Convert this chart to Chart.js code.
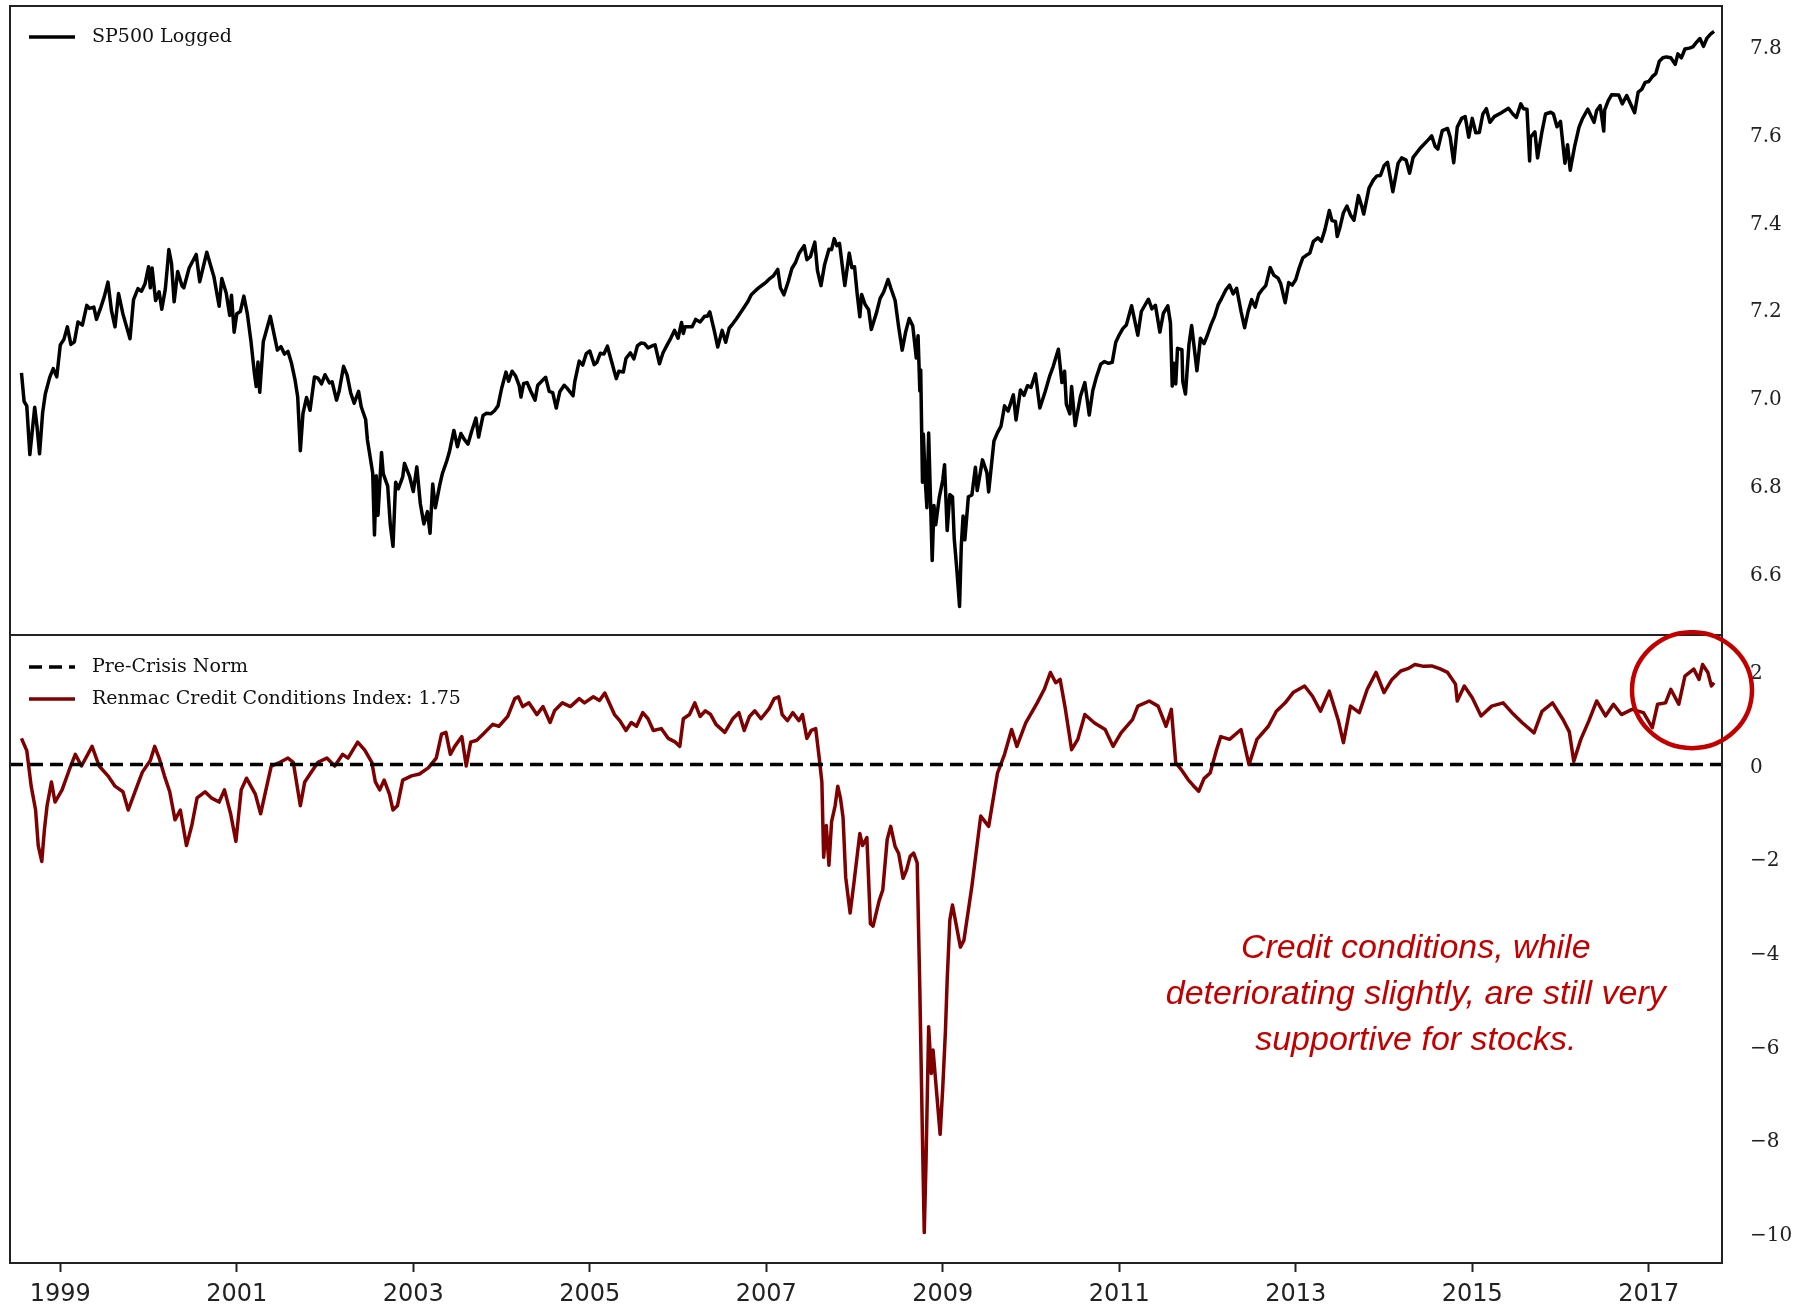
<!DOCTYPE html>
<html>
<head>
<meta charset="utf-8">
<title>SP500 Logged vs Renmac Credit Conditions Index</title>
<script src="https://cdn.jsdelivr.net/npm/chart.js@4.4.1/dist/chart.umd.min.js"></script>
<style>
  html, body { margin:0; padding:0; background:#fff; }
  #wrap { position:relative; width:1803px; height:1305px; overflow:hidden; }
  #topChart { position:absolute; left:0; top:0; }
  #bottomChart { position:absolute; left:0; top:630px; }
</style>
</head>
<body>
<div id="wrap">
  <canvas id="topChart" width="1803" height="640"></canvas>
  <canvas id="bottomChart" width="1803" height="675"></canvas>
</div>
<script>
// time axis (decimal years) shared by both panels
var xMin = 1998.43, xMax = 2017.83;
var xTickYears = [1999, 2001, 2003, 2005, 2007, 2009, 2011, 2013, 2015, 2017];
var spxTicks = [6.6, 6.8, 7.0, 7.2, 7.4, 7.6, 7.8];
var rcciTicks = [-10, -8, -6, -4, -2, 0, 2];
var normLevel = 0;

// SP500 logged
var spxDates = [
  1998.56, 1998.59, 1998.62, 1998.655, 1998.71, 1998.735, 1998.765, 1998.80, 1998.83, 1998.88, 1998.92, 1998.96,
  1999.00, 1999.04, 1999.08, 1999.12, 1999.16, 1999.20, 1999.25, 1999.30, 1999.33, 1999.38, 1999.41, 1999.46, 1999.50, 1999.54, 1999.58, 1999.62, 1999.66, 1999.71, 1999.79, 1999.83, 1999.88, 1999.92, 1999.96,
  2000.00, 2000.02, 2000.04, 2000.08, 2000.12, 2000.15, 2000.19, 2000.21, 2000.23, 2000.26, 2000.29, 2000.33, 2000.38, 2000.40, 2000.46, 2000.54, 2000.58, 2000.66, 2000.71, 2000.74, 2000.80, 2000.83, 2000.88, 2000.92, 2000.94, 2000.97,
  2001.00, 2001.04, 2001.08, 2001.12, 2001.16, 2001.20, 2001.22, 2001.24, 2001.26, 2001.30, 2001.38, 2001.46, 2001.50, 2001.54, 2001.58, 2001.62, 2001.66, 2001.69, 2001.72, 2001.75, 2001.79, 2001.83, 2001.88, 2001.92, 2001.96,
  2002.00, 2002.05, 2002.08, 2002.13, 2002.16, 2002.21, 2002.25, 2002.29, 2002.33, 2002.38, 2002.41, 2002.46, 2002.48, 2002.54, 2002.56, 2002.58, 2002.60, 2002.64, 2002.66, 2002.71, 2002.74, 2002.77, 2002.80, 2002.83, 2002.88, 2002.90, 2002.96,
  2003.00, 2003.04, 2003.08, 2003.12, 2003.16, 2003.19, 2003.22, 2003.25, 2003.30, 2003.33, 2003.38, 2003.41, 2003.46, 2003.50, 2003.54, 2003.58, 2003.62, 2003.66, 2003.71, 2003.74, 2003.79, 2003.83, 2003.88, 2003.92, 2003.96,
  2004.00, 2004.05, 2004.08, 2004.12, 2004.16, 2004.20, 2004.22, 2004.25, 2004.29, 2004.33, 2004.38, 2004.41, 2004.46, 2004.50, 2004.54, 2004.58, 2004.62, 2004.66, 2004.71, 2004.74, 2004.81, 2004.83, 2004.88, 2004.92, 2004.96,
  2005.00, 2005.05, 2005.08, 2005.12, 2005.16, 2005.20, 2005.25, 2005.30, 2005.33, 2005.38, 2005.41, 2005.46, 2005.50, 2005.54, 2005.58, 2005.62, 2005.66, 2005.71, 2005.74, 2005.79, 2005.83, 2005.88, 2005.92, 2005.96,
  2006.00, 2006.04, 2006.06, 2006.08, 2006.12, 2006.16, 2006.20, 2006.25, 2006.30, 2006.33, 2006.36, 2006.41, 2006.45, 2006.50, 2006.54, 2006.58, 2006.62, 2006.66, 2006.70, 2006.74, 2006.79, 2006.83, 2006.88, 2006.92, 2006.96,
  2007.00, 2007.04, 2007.08, 2007.13, 2007.16, 2007.20, 2007.25, 2007.29, 2007.33, 2007.37, 2007.41, 2007.43, 2007.46, 2007.50, 2007.55, 2007.58, 2007.62, 2007.66, 2007.71, 2007.74, 2007.77, 2007.80, 2007.83, 2007.87, 2007.89, 2007.94, 2007.97,
  2008.00, 2008.03, 2008.06, 2008.08, 2008.12, 2008.16, 2008.19, 2008.25, 2008.29, 2008.33, 2008.38, 2008.41, 2008.46, 2008.50, 2008.54, 2008.58, 2008.62, 2008.66, 2008.70, 2008.72, 2008.74, 2008.75, 2008.77, 2008.78, 2008.80, 2008.82, 2008.84, 2008.88, 2008.90, 2008.92, 2008.96,
  2009.00, 2009.02, 2009.05, 2009.08, 2009.11, 2009.13, 2009.16, 2009.19, 2009.21, 2009.23, 2009.25, 2009.29, 2009.33, 2009.37, 2009.39, 2009.45, 2009.50, 2009.52, 2009.58, 2009.62, 2009.66, 2009.70, 2009.74, 2009.80, 2009.83, 2009.88, 2009.92, 2009.96,
  2010.00, 2010.05, 2010.10, 2010.16, 2010.21, 2010.25, 2010.31, 2010.35, 2010.38, 2010.40, 2010.44, 2010.46, 2010.50, 2010.56, 2010.61, 2010.66, 2010.70, 2010.74, 2010.79, 2010.83, 2010.88, 2010.92, 2010.96,
  2011.00, 2011.04, 2011.08, 2011.14, 2011.21, 2011.25, 2011.33, 2011.37, 2011.41, 2011.46, 2011.50, 2011.55, 2011.58, 2011.60, 2011.62, 2011.64, 2011.66, 2011.71, 2011.72, 2011.75, 2011.79, 2011.82, 2011.88, 2011.92, 2011.96,
  2012.00, 2012.04, 2012.08, 2012.12, 2012.16, 2012.21, 2012.25, 2012.29, 2012.33, 2012.38, 2012.42, 2012.46, 2012.50, 2012.54, 2012.58, 2012.62, 2012.66, 2012.71, 2012.75, 2012.80, 2012.83, 2012.88, 2012.92, 2012.96,
  2013.00, 2013.04, 2013.08, 2013.12, 2013.16, 2013.20, 2013.25, 2013.29, 2013.33, 2013.38, 2013.41, 2013.45, 2013.47, 2013.50, 2013.54, 2013.58, 2013.62, 2013.66, 2013.71, 2013.75, 2013.77, 2013.83, 2013.88, 2013.92, 2013.96,
  2014.00, 2014.04, 2014.08, 2014.10, 2014.16, 2014.20, 2014.25, 2014.29, 2014.33, 2014.41, 2014.50, 2014.54, 2014.58, 2014.61, 2014.66, 2014.72, 2014.75, 2014.79, 2014.83, 2014.88, 2014.92, 2014.96,
  2015.00, 2015.04, 2015.08, 2015.12, 2015.16, 2015.20, 2015.25, 2015.33, 2015.41, 2015.46, 2015.50, 2015.55, 2015.58, 2015.62, 2015.65, 2015.66, 2015.71, 2015.74, 2015.79, 2015.83, 2015.89, 2015.92, 2015.96,
  2016.00, 2016.05, 2016.08, 2016.11, 2016.16, 2016.21, 2016.25, 2016.31, 2016.38, 2016.41, 2016.45, 2016.49, 2016.50, 2016.54, 2016.58, 2016.66, 2016.70, 2016.75, 2016.84, 2016.88, 2016.92, 2016.96,
  2017.00, 2017.04, 2017.08, 2017.12, 2017.16, 2017.20, 2017.25, 2017.30, 2017.33, 2017.37, 2017.41, 2017.46, 2017.50, 2017.54, 2017.58, 2017.62, 2017.66, 2017.70, 2017.74
];
var spxLogged = [
  7.050, 6.985, 6.975, 6.864, 6.972, 6.930, 6.866, 6.960, 7.002, 7.040, 7.060, 7.041,
  7.114, 7.126, 7.155, 7.115, 7.121, 7.166, 7.159, 7.204, 7.197, 7.200, 7.172, 7.200, 7.225, 7.257, 7.192, 7.155, 7.231, 7.184, 7.128, 7.217, 7.242, 7.236, 7.253,
  7.292, 7.244, 7.289, 7.215, 7.235, 7.195, 7.241, 7.285, 7.331, 7.300, 7.212, 7.281, 7.248, 7.244, 7.289, 7.320, 7.258, 7.325, 7.290, 7.270, 7.202, 7.265, 7.232, 7.181, 7.227, 7.143,
  7.185, 7.190, 7.225, 7.184, 7.123, 7.048, 7.019, 7.075, 7.006, 7.121, 7.179, 7.102, 7.110, 7.093, 7.099, 7.072, 7.034, 6.996, 6.873, 6.958, 6.994, 6.965, 7.041, 7.038, 7.025,
  7.046, 7.027, 7.030, 6.988, 7.009, 7.065, 7.045, 7.005, 6.981, 7.008, 6.973, 6.944, 6.898, 6.822, 6.681, 6.816, 6.726, 6.869, 6.820, 6.792, 6.703, 6.655, 6.801, 6.786, 6.813, 6.844, 6.813,
  6.780, 6.836, 6.752, 6.706, 6.734, 6.685, 6.797, 6.743, 6.795, 6.821, 6.850, 6.871, 6.919, 6.882, 6.912, 6.898, 6.888, 6.916, 6.947, 6.904, 6.953, 6.958, 6.957, 6.964, 6.975,
  7.014, 7.052, 7.031, 7.054, 7.043, 7.021, 6.995, 7.026, 7.028, 7.009, 6.988, 7.022, 7.032, 7.040, 7.008, 7.005, 6.970, 7.007, 7.022, 7.016, 6.998, 7.030, 7.077, 7.068, 7.094,
  7.100, 7.069, 7.074, 7.095, 7.093, 7.111, 7.074, 7.037, 7.054, 7.052, 7.083, 7.096, 7.082, 7.112, 7.118, 7.117, 7.107, 7.112, 7.114, 7.071, 7.096, 7.115, 7.130, 7.147,
  7.129, 7.165, 7.140, 7.155, 7.155, 7.155, 7.172, 7.166, 7.179, 7.179, 7.189, 7.147, 7.109, 7.147, 7.120, 7.152, 7.162, 7.173, 7.185, 7.197, 7.212, 7.228, 7.238, 7.245, 7.251,
  7.257, 7.265, 7.271, 7.286, 7.244, 7.228, 7.259, 7.288, 7.301, 7.322, 7.334, 7.340, 7.308, 7.315, 7.348, 7.283, 7.249, 7.296, 7.332, 7.331, 7.356, 7.340, 7.345, 7.280, 7.249, 7.323, 7.290,
  7.292, 7.230, 7.178, 7.229, 7.206, 7.194, 7.149, 7.188, 7.220, 7.234, 7.263, 7.244, 7.215, 7.155, 7.102, 7.144, 7.174, 7.157, 7.084, 7.135, 7.009, 7.057, 6.801, 6.911, 6.811, 6.743, 6.913, 6.623, 6.748, 6.704, 6.766,
  6.806, 6.841, 6.691, 6.773, 6.768, 6.672, 6.600, 6.518, 6.657, 6.724, 6.670, 6.768, 6.772, 6.835, 6.782, 6.852, 6.823, 6.779, 6.895, 6.914, 6.929, 6.975, 6.963, 7.000, 6.943, 7.011, 6.999, 7.021,
  7.017, 7.048, 6.970, 7.007, 7.042, 7.064, 7.104, 7.028, 7.054, 6.979, 6.957, 7.019, 6.930, 6.997, 7.028, 6.954, 7.010, 7.040, 7.070, 7.076, 7.072, 7.074, 7.120,
  7.137, 7.151, 7.159, 7.203, 7.136, 7.190, 7.218, 7.196, 7.204, 7.143, 7.186, 7.203, 7.164, 7.020, 7.072, 7.025, 7.106, 7.103, 7.030, 7.002, 7.115, 7.158, 7.055, 7.129, 7.117,
  7.137, 7.160, 7.179, 7.205, 7.220, 7.240, 7.250, 7.230, 7.243, 7.190, 7.153, 7.190, 7.217, 7.200, 7.229, 7.240, 7.249, 7.290, 7.273, 7.266, 7.253, 7.210, 7.256, 7.250,
  7.263, 7.290, 7.312, 7.318, 7.323, 7.350, 7.358, 7.350, 7.376, 7.420, 7.397, 7.395, 7.361, 7.381, 7.415, 7.430, 7.410, 7.398, 7.454, 7.428, 7.412, 7.471, 7.490, 7.499, 7.500,
  7.522, 7.530, 7.486, 7.463, 7.528, 7.540, 7.535, 7.505, 7.541, 7.562, 7.581, 7.590, 7.566, 7.560, 7.602, 7.607, 7.587, 7.529, 7.610, 7.630, 7.634, 7.587,
  7.630, 7.597, 7.598, 7.640, 7.652, 7.621, 7.634, 7.643, 7.653, 7.640, 7.632, 7.663, 7.652, 7.651, 7.533, 7.587, 7.599, 7.540, 7.600, 7.640, 7.644, 7.640, 7.611,
  7.623, 7.528, 7.570, 7.512, 7.566, 7.610, 7.630, 7.651, 7.621, 7.648, 7.659, 7.601, 7.649, 7.670, 7.684, 7.683, 7.663, 7.682, 7.643, 7.690, 7.696, 7.712,
  7.714, 7.725, 7.732, 7.760, 7.768, 7.770, 7.768, 7.753, 7.777, 7.768, 7.788, 7.790, 7.793, 7.803, 7.812, 7.794, 7.813, 7.822, 7.828
];

// Renmac Credit Conditions Index
var rcciDates = [
  1998.56, 1998.62, 1998.67, 1998.72, 1998.75, 1998.79, 1998.82, 1998.85, 1998.90, 1998.94,
  1999.02, 1999.10, 1999.17, 1999.24, 1999.36, 1999.44, 1999.54, 1999.62, 1999.71, 1999.77, 1999.87, 1999.93,
  2000.02, 2000.07, 2000.12, 2000.18, 2000.24, 2000.30, 2000.36, 2000.43, 2000.49, 2000.55, 2000.64, 2000.71, 2000.80, 2000.86, 2000.93, 2000.99,
  2001.05, 2001.11, 2001.21, 2001.27, 2001.33, 2001.39, 2001.49, 2001.58, 2001.64, 2001.72, 2001.77, 2001.83, 2001.92,
  2002.02, 2002.11, 2002.20, 2002.26, 2002.37, 2002.45, 2002.53, 2002.57, 2002.62, 2002.67, 2002.73, 2002.77, 2002.82, 2002.88, 2002.98,
  2003.07, 2003.17, 2003.26, 2003.32, 2003.37, 2003.42, 2003.47, 2003.55, 2003.60, 2003.65, 2003.72, 2003.79, 2003.90, 2003.97,
  2004.07, 2004.15, 2004.19, 2004.24, 2004.31, 2004.40, 2004.47, 2004.55, 2004.60, 2004.69, 2004.78, 2004.88, 2004.94,
  2005.04, 2005.11, 2005.17, 2005.23, 2005.28, 2005.34, 2005.41, 2005.47, 2005.53, 2005.60, 2005.66, 2005.72, 2005.81, 2005.89, 2005.97,
  2006.02, 2006.06, 2006.13, 2006.19, 2006.25, 2006.31, 2006.37, 2006.43, 2006.53, 2006.62, 2006.69, 2006.75, 2006.81, 2006.87, 2006.94,
  2007.03, 2007.09, 2007.14, 2007.18, 2007.24, 2007.30, 2007.37, 2007.41, 2007.46, 2007.51, 2007.56, 2007.60, 2007.63, 2007.65, 2007.68, 2007.71, 2007.74, 2007.78, 2007.81, 2007.84, 2007.87, 2007.90, 2007.95, 2007.99,
  2008.06, 2008.09, 2008.14, 2008.18, 2008.21, 2008.28, 2008.32, 2008.37, 2008.41, 2008.46, 2008.50, 2008.55, 2008.59, 2008.63, 2008.67, 2008.71, 2008.74, 2008.77, 2008.79, 2008.81, 2008.84, 2008.87, 2008.89, 2008.93, 2008.97,
  2009.00, 2009.03, 2009.05, 2009.08, 2009.11, 2009.14, 2009.20, 2009.24, 2009.33, 2009.43, 2009.52, 2009.62, 2009.70, 2009.78, 2009.84, 2009.94,
  2010.07, 2010.15, 2010.22, 2010.28, 2010.33, 2010.39, 2010.46, 2010.53, 2010.61, 2010.72, 2010.84, 2010.93,
  2011.02, 2011.15, 2011.21, 2011.34, 2011.44, 2011.53, 2011.59, 2011.64, 2011.70, 2011.78, 2011.84, 2011.90, 2011.96,
  2012.03, 2012.10, 2012.15, 2012.25, 2012.38, 2012.47, 2012.56, 2012.69, 2012.78, 2012.88, 2012.97,
  2013.10, 2013.19, 2013.28, 2013.38, 2013.48, 2013.54, 2013.62, 2013.72, 2013.81, 2013.91,
  2014.00, 2014.09, 2014.19, 2014.27, 2014.35, 2014.45, 2014.54, 2014.63, 2014.72, 2014.81, 2014.83, 2014.91,
  2015.00, 2015.10, 2015.22, 2015.35, 2015.45, 2015.57, 2015.70, 2015.79, 2015.91,
  2016.03, 2016.10, 2016.15, 2016.23, 2016.32, 2016.41, 2016.51, 2016.60, 2016.69, 2016.81, 2016.94,
  2017.04, 2017.10, 2017.19, 2017.25, 2017.34, 2017.41, 2017.51, 2017.57, 2017.61, 2017.67, 2017.71, 2017.74
];
var rcciValues = [
  0.56, 0.30, -0.46, -0.97, -1.73, -2.07, -1.39, -0.88, -0.37, -0.80,
  -0.54, -0.12, 0.22, -0.03, 0.39, -0.03, -0.24, -0.46, -0.58, -0.97, -0.46, -0.16,
  0.09, 0.39, 0.14, -0.24, -0.58, -1.18, -0.97, -1.73, -1.30, -0.71, -0.58, -0.71, -0.80, -0.54, -1.05, -1.64,
  -0.54, -0.29, -0.63, -1.05, -0.54, -0.03, 0.05, 0.14, 0.05, -0.88, -0.37, -0.20, 0.05,
  0.14, -0.03, 0.22, 0.14, 0.48, 0.31, 0.05, -0.37, -0.54, -0.33, -0.63, -0.97, -0.88, -0.33, -0.24,
  -0.20, -0.07, 0.14, 0.65, 0.69, 0.22, 0.39, 0.60, -0.03, 0.48, 0.52, 0.65, 0.86, 0.82,
  1.03, 1.41, 1.45, 1.24, 1.32, 1.07, 1.24, 0.90, 1.15, 1.32, 1.24, 1.41, 1.32,
  1.45, 1.37, 1.53, 1.28, 1.07, 0.94, 0.73, 0.90, 0.82, 1.11, 0.98, 0.73, 0.77, 0.56, 0.48,
  0.39, 0.98, 1.07, 1.32, 1.03, 1.15, 1.07, 0.86, 0.69, 0.98, 1.11, 0.73, 1.03, 1.15, 0.98,
  1.19, 1.41, 1.45, 1.07, 0.94, 1.11, 0.94, 1.07, 0.56, 0.73, 0.77, 0.14, -0.37, -1.98, -1.30, -2.15, -1.22, -0.88, -0.46, -0.71, -1.13, -2.41, -3.17, -2.58,
  -1.47, -1.73, -1.56, -3.40, -3.45, -2.90, -2.68, -1.60, -1.32, -1.75, -1.90, -2.43, -2.25, -1.96, -1.89, -2.10, -4.80, -8.00, -10.00, -8.50, -5.60, -6.60, -6.10, -7.00, -7.90,
  -6.90, -5.70, -4.60, -3.32, -3.00, -3.30, -3.90, -3.75, -2.60, -1.10, -1.32, -0.18, 0.22, 0.75, 0.39, 0.89,
  1.32, 1.61, 1.97, 1.75, 1.82, 1.18, 0.32, 0.54, 1.07, 0.89, 0.75, 0.39,
  0.68, 0.96, 1.25, 1.36, 1.25, 0.82, 1.18, 0.04, -0.10, -0.32, -0.45, -0.57, -0.30,
  -0.18, 0.30, 0.60, 0.54, 0.75, 0.00, 0.54, 0.82, 1.14, 1.32, 1.54,
  1.68, 1.46, 1.14, 1.57, 0.96, 0.47, 1.25, 1.11, 1.61, 1.97,
  1.54, 1.82, 2.00, 2.05, 2.14, 2.10, 2.11, 2.05, 1.97, 1.72, 1.36, 1.68,
  1.43, 1.04, 1.25, 1.32, 1.11, 0.89, 0.68, 1.14, 1.32,
  0.96, 0.70, 0.07, 0.54, 0.93, 1.36, 1.04, 1.29, 1.07, 1.18, 1.11,
  0.79, 1.29, 1.32, 1.61, 1.29, 1.89, 2.04, 1.82, 2.14, 1.97, 1.68, 1.75
];

var noteLines = ['Credit conditions, while', 'deteriorating slightly, are still very', 'supportive for stocks.'];

var serif = '"DejaVu Serif", "Liberation Serif", serif';
var sans = '"DejaVu Sans", "Liberation Sans", sans-serif';
var darkRed = '#7f0000';
var noteRed = '#c20000';

function toPoints(xs, ys){ return xs.map(function(x, i){ return {x: x, y: ys[i]}; }); }
function minus(v){ return v < 0 ? '\u2212' + Math.abs(v) : String(v); }
function noPad(s){ s.paddingTop = 0; s.paddingBottom = 0; s.paddingLeft = 0; s.paddingRight = 0; }

function xScale(show){
  return {
    type: 'linear', min: xMin, max: xMax, display: show,
    afterBuildTicks: function(s){ s.ticks = xTickYears.map(function(v){ return {value: v}; }); },
    afterFit: function(s){ s.height = show ? 42 : 0; noPad(s); },
    grid: { display: true, drawOnChartArea: false, drawTicks: true, tickLength: 9, tickColor: '#222', tickWidth: 2 },
    border: { display: false },
    ticks: { autoSkip: false, maxRotation: 0, padding: 8, color: '#222', font: { family: sans, size: 24 },
      callback: function(v){ return String(v); } }
  };
}
function yScale(min, max, tickVals, fmt, shift){
  return {
    type: 'linear', position: 'right', min: min, max: max,
    afterBuildTicks: function(s){ s.ticks = tickVals.map(function(v){ return {value: v}; }); },
    afterFit: function(s){ s.width = 81; noPad(s); },
    grid: { display: false }, border: { display: false },
    ticks: { autoSkip: false, padding: 20, labelOffset: shift, color: '#222', font: { family: serif, size: 20 }, callback: fmt }
  };
}

function drawKey(ctx, y, color, dash, label){
  ctx.save();
  ctx.strokeStyle = color; ctx.lineWidth = 3.5; ctx.setLineDash(dash);
  ctx.beginPath(); ctx.moveTo(29, y); ctx.lineTo(75, y); ctx.stroke();
  ctx.setLineDash([]);
  ctx.fillStyle = '#111'; ctx.font = '19px ' + serif; ctx.textBaseline = 'middle';
  ctx.fillText(label, 92, y);
  ctx.restore();
}

var framePlugin = {
  id: 'frame',
  afterDraw: function(chart){
    var a = chart.chartArea, c = chart.ctx;
    c.save(); c.strokeStyle = '#222'; c.lineWidth = 2;
    c.strokeRect(a.left, a.top, a.right - a.left, a.bottom - a.top);
    c.restore();
  }
};

var baseOpts = {
  responsive: false, animation: false,
  plugins: { legend: { display: false }, tooltip: { enabled: false } },
  elements: { point: { radius: 0 }, line: { tension: 0, borderJoinStyle: 'round' } }
};

// Top panel: SP500 logged
new Chart(document.getElementById('topChart'), {
  type: 'line',
  data: { datasets: [{ label: 'SP500 Logged', data: toPoints(spxDates, spxLogged), borderColor: '#000', borderWidth: 3.5 }] },
  options: Object.assign({}, baseOpts, {
    layout: { padding: { left: 10, right: 0, top: 6, bottom: 5 } },
    scales: {
      x: xScale(false),
      y: yScale(6.453, 7.886, spxTicks, function(v){ return Number(v).toFixed(1); }, 5)
    }
  }),
  plugins: [framePlugin, {
    id: 'topKey',
    afterDraw: function(chart){ drawKey(chart.ctx, 37, '#000', [], 'SP500 Logged'); }
  }]
});

// Bottom panel: credit conditions
new Chart(document.getElementById('bottomChart'), {
  type: 'line',
  data: { datasets: [
    { label: 'Pre-Crisis Norm', data: [{x: xMin, y: normLevel}, {x: xMax, y: normLevel}], borderColor: '#000', borderWidth: 3.5, borderDash: [13, 7] },
    { label: 'Renmac Credit Conditions Index: 1.75', data: toPoints(rcciDates, rcciValues), borderColor: darkRed, borderWidth: 3.5 }
  ] },
  options: Object.assign({}, baseOpts, {
    layout: { padding: { left: 10, right: 0, top: 5, bottom: 0 } },
    scales: {
      x: xScale(true),
      y: yScale(-10.65, 2.77, rcciTicks, minus, 3)
    }
  }),
  plugins: [framePlugin, {
    id: 'bottomNotes',
    afterDraw: function(chart){
      var c = chart.ctx, xs = chart.scales.x, ys = chart.scales.y;
      drawKey(c, 37, '#000', [13, 7], 'Pre-Crisis Norm');
      drawKey(c, 69, darkRed, [], 'Renmac Credit Conditions Index: 1.75');
      // circle around the latest readings
      c.save();
      c.strokeStyle = noteRed; c.lineWidth = 4.5;
      c.beginPath();
      c.ellipse(xs.getPixelForValue(2017.49), ys.getPixelForValue(1.59), 60, 58, 0, 0, Math.PI * 2);
      c.stroke();
      // handwritten-style note
      c.fillStyle = noteRed; c.textAlign = 'center'; c.textBaseline = 'middle';
      c.font = 'italic 28px "Liberation Sans", sans-serif';
      var w = c.measureText(noteLines[1]).width;
      var size = Math.round(28 * 506 / w);
      c.font = 'italic ' + size + 'px "Liberation Sans", sans-serif';
      var cx = xs.getPixelForValue(2014.36);
      var cy = ys.getPixelForValue(-4.92);
      noteLines.forEach(function(t, i){ c.fillText(t, cx, cy + (i - 1) * 46); });
      c.restore();
    }
  }]
});
</script>
</body>
</html>
